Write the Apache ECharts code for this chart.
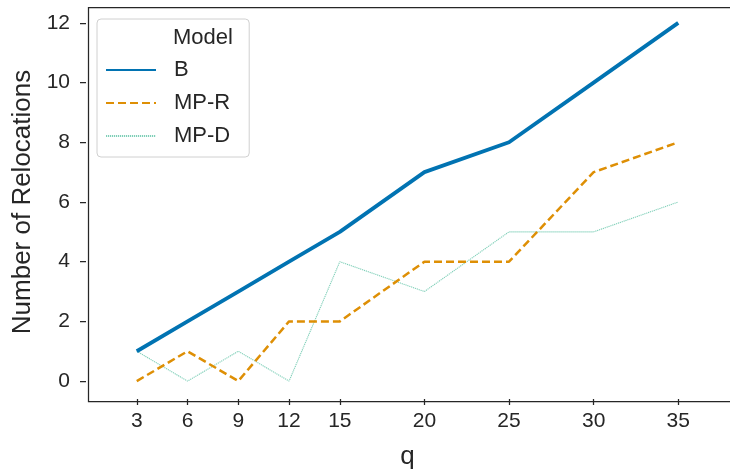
<!DOCTYPE html>
<html>
<head>
<meta charset="utf-8">
<script src="https://cdn.jsdelivr.net/npm/echarts@6/dist/echarts.min.js"></script>
<style>
  html, body { margin: 0; padding: 0; background: #fff; }
  #chart { width: 730px; height: 470px; }
</style>
</head>
<body>
<div id="chart"></div>
<script>
// Relocation counts per model for each value of q
const qValues = [3, 6, 9, 12, 15, 20, 25, 30, 35];
const modelB = [1, 2, 3, 4, 5, 7, 8, 10, 12];
const modelMPR = [0, 1, 0, 2, 2, 4, 4, 7, 8];
const modelMPD = [1, 0, 1, 0, 4, 3, 5, 5, 6];
const yTicks = [0, 2, 4, 6, 8, 10, 12];

const FONT = '"Liberation Sans", Arial, sans-serif';
const TEXT = '#262626';

const pairs = vals => qValues.map((q, i) => [q, vals[i]]);

const chart = echarts.init(document.getElementById('chart'), null, { renderer: 'canvas' });
chart.setOption({
  animation: false,
  backgroundColor: '#fff',
  grid: { left: 86, right: 1, top: 5, bottom: 71, containLabel: false, outerBoundsMode: 'none' },
  xAxis: {
    type: 'value', min: 0, max: 38,
    name: 'q', nameLocation: 'middle', nameGap: 45,
    nameTextStyle: { fontFamily: FONT, fontSize: 26, color: TEXT },
    axisLine: { show: false, onZero: false },
    axisTick: { show: true, length: 6, customValues: qValues, lineStyle: { color: '#262626', width: 1.25 } },
    axisLabel: { customValues: qValues, fontFamily: FONT, fontSize: 21, color: TEXT, margin: 12 },
    splitLine: { show: false }
  },
  yAxis: {
    type: 'value', min: -0.6, max: 12.6,
    name: 'Number of Relocations', nameLocation: 'middle', nameGap: 48,
    nameTextStyle: { fontFamily: FONT, fontSize: 26, color: TEXT },
    axisLine: { show: false, onZero: false },
    axisTick: { show: true, length: 6, customValues: yTicks, lineStyle: { color: '#262626', width: 1.25 } },
    axisLabel: { customValues: yTicks, fontFamily: FONT, fontSize: 21, color: TEXT, margin: 16 },
    splitLine: { show: false }
  },
  legend: {
    orient: 'vertical', left: 97, top: 19,
    padding: [40, 19, 10, 8],
    itemWidth: 50, itemHeight: 14, itemGap: 11,
    backgroundColor: '#fff', borderColor: '#d0d0d0', borderWidth: 1, borderRadius: 4,
    itemStyle: { opacity: 0 },
    textStyle: { fontFamily: FONT, fontSize: 22, color: TEXT, padding: [0, 0, 0, 13] },
    data: ['B', 'MP-R', 'MP-D']
  },
  graphic: [
    { type: 'rect', left: 86, top: 5, shape: { width: 643, height: 394 },
      style: { fill: 'none', stroke: '#262626', lineWidth: 1.25 }, silent: true, z: 0 },
    { type: 'text', left: 173, top: 27,
      style: { text: 'Model', font: '22px ' + FONT, fill: TEXT }, z: 100 }
  ],
  series: [
    { name: 'B', type: 'line', data: pairs(modelB), symbol: 'none',
      lineStyle: { color: '#0173b2', width: 3.8 }, itemStyle: { color: '#0173b2' }, z: 3 },
    { name: 'MP-R', type: 'line', data: pairs(modelMPR), symbol: 'none',
      lineStyle: { color: '#de8f05', width: 2.5, type: [8, 4] }, itemStyle: { color: '#de8f05' }, z: 2 },
    { name: 'MP-D', type: 'line', data: pairs(modelMPD), symbol: 'none',
      lineStyle: { color: '#7fcfb8', width: 1.1, type: [1.2, 0.8] }, itemStyle: { color: '#7fcfb8' }, z: 1 }
  ]
});
</script>
</body>
</html>
